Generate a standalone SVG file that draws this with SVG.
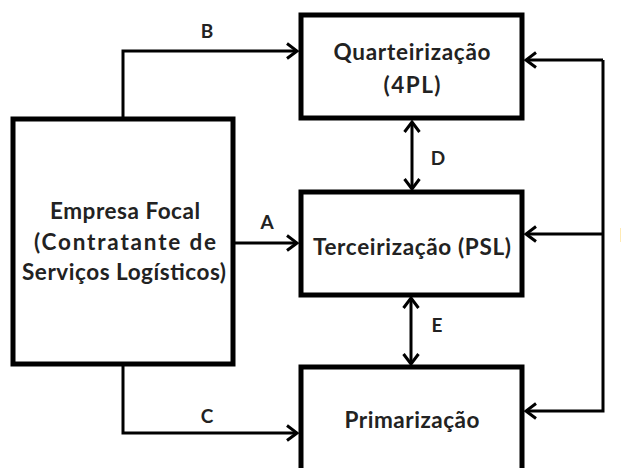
<svg xmlns="http://www.w3.org/2000/svg" width="621" height="468" viewBox="0 0 621 468">
<style>
.box{fill:#fff;stroke:#000;stroke-width:5}
.t{font-family:Lato,"Liberation Sans",sans-serif;font-weight:bold;font-size:22.5px;fill:#222;text-anchor:middle}
.l{font-family:Lato,"Liberation Sans",sans-serif;font-weight:bold;font-size:19px;fill:#222;text-anchor:middle}
.c{fill:none;stroke:#000;stroke-width:3}
</style>
<defs>
<marker id="ah" markerUnits="userSpaceOnUse" markerWidth="14" markerHeight="18" viewBox="0 0 14 18" refX="12" refY="9" orient="auto-start-reverse">
<path d="M2,1.5 L12,9 L2,16.5" fill="none" stroke="#000" stroke-width="3"/>
</marker>
</defs>
<rect width="621" height="468" fill="#fff"/>
<g id="connectors">
<path class="c" d="M123,119 V51 H297" marker-end="url(#ah)"/>
<path class="c" d="M233,243 H297" marker-end="url(#ah)"/>
<path class="c" d="M123,364 V433 H297" marker-end="url(#ah)"/>
<path class="c" d="M412,122 V189" marker-start="url(#ah)" marker-end="url(#ah)"/>
<path class="c" d="M411,298 V364" marker-start="url(#ah)" marker-end="url(#ah)"/>
<path class="c" d="M603,60 V411 H526" marker-end="url(#ah)"/>
<path class="c" d="M603,234 H526" marker-end="url(#ah)"/>
<path class="c" d="M603,60 H526" marker-end="url(#ah)"/>
<text class="l" x="207" y="38">B</text>
<text class="l" x="267" y="229">A</text>
<text class="l" x="207" y="423">C</text>
<text class="l" x="438" y="165">D</text>
<text class="l" x="437" y="332">E</text>
<text class="l" x="625" y="242">F</text>
</g>
<g id="focal">
<rect class="box" x="13" y="119" width="220" height="245"/>
<text class="t" x="125" y="219" textLength="150">Empresa Focal</text>
<text class="t" x="125" y="250" textLength="182">(Contratante de</text>
<text class="t" x="124" y="280" textLength="204">Serviços Logísticos)</text>
</g>
<g id="quarteirizacao">
<rect class="box" x="301" y="15" width="221" height="103"/>
<text class="t" x="412" y="60" textLength="157">Quarteirização</text>
<text class="t" x="412" y="93" textLength="57">(4PL)</text>
</g>
<g id="terceirizacao">
<rect class="box" x="301" y="192" width="221" height="103"/>
<text class="t" x="412" y="255" textLength="198">Terceirização (PSL)</text>
</g>
<g id="primarizacao">
<rect class="box" x="301" y="367" width="221" height="120"/>
<text class="t" x="412" y="428" textLength="135">Primarização</text>
</g>
</svg>
